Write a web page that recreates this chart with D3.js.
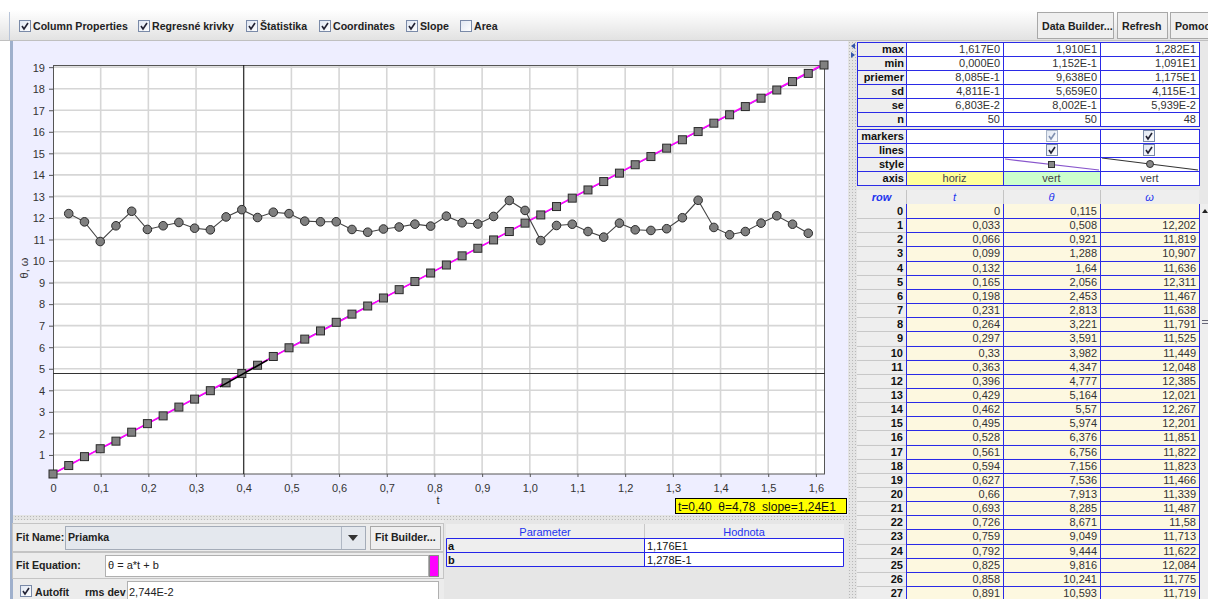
<!DOCTYPE html>
<html><head><meta charset="utf-8">
<script src="https://cdn.jsdelivr.net/npm/d3@7"></script>
<style>body{margin:0;background:#fff}svg{display:block;font-family:"Liberation Sans",Arial,sans-serif}</style>
</head><body><svg id="c" width="1208" height="599"></svg>
<script>
// ---------- data ----------
const rowIdx = d3.range(50);
const tVals = [0,0.033,0.066,0.099,0.132,0.165,0.198,0.231,0.264,0.297,0.33,0.363,0.396,0.429,0.462,0.495,0.528,0.561,0.594,0.627,0.66,0.693,0.726,0.759,0.792,0.825,0.858,0.891,0.924,0.957,0.99,1.023,1.056,1.089,1.122,1.155,1.188,1.221,1.254,1.287,1.32,1.353,1.386,1.419,1.452,1.485,1.518,1.551,1.584,1.617];
const thetaVals = [0.115,0.508,0.921,1.288,1.64,2.056,2.453,2.813,3.221,3.591,3.982,4.347,4.777,5.164,5.57,5.974,6.376,6.756,7.156,7.536,7.913,8.285,8.671,9.049,9.444,9.816,10.241,10.593,10.98,11.37,11.76,12.14,12.53,12.92,13.30,13.69,14.08,14.47,14.85,15.24,15.63,16.01,16.40,16.79,17.17,17.56,17.94,18.33,18.71,19.10];
const omegaVals = [null,12.202,11.819,10.907,11.636,12.311,11.467,11.638,11.791,11.525,11.449,12.048,12.385,12.021,12.267,12.201,11.851,11.822,11.823,11.466,11.339,11.487,11.58,11.713,11.622,12.084,11.775,11.719,12.07,12.81,12.35,10.95,11.65,11.71,11.37,11.11,11.76,11.45,11.42,11.50,12.01,12.82,11.56,11.22,11.37,11.76,12.10,11.71,11.29,null];
const xTicks = d3.range(0,17).map(i=>i/10);
const yTicks = d3.range(1,20);
const fitA = 11.76, fitB = 0.1278;
const cursorT = 0.40, cursorTheta = 4.78, cursorSlope = 12.4;
const statLabels = ["max","min","priemer","sd","se","n"];
const statT = ["1,617E0","0,000E0","8,085E-1","4,811E-1","6,803E-2","50"];
const statTheta = ["1,910E1","1,152E-1","9,638E0","5,659E0","8,002E-1","50"];
const statOmega = ["1,282E1","1,091E1","1,175E1","4,115E-1","5,939E-2","48"];
const propLabels = ["markers","lines","style","axis"];
const colHeaders = ["row","t","θ","ω"];
const toolbarItems = [["Column Properties",true],["Regresné krivky",true],["Štatistika",true],["Coordinates",true],["Slope",true],["Area",false]];
const paramNames = ["a","b"];
const paramValues = ["1,176E1","1,278E-1"];

// ---------- helpers ----------
const svg = d3.select("#c");
const defs = svg.append("defs");
function txt(g,x,y,s,o={}){return g.append("text").attr("x",x).attr("y",y).text(s)
  .attr("font-size",o.size||11).attr("font-weight",o.bold?"bold":null).attr("font-style",o.italic?"italic":null)
  .attr("fill",o.fill||"#222").attr("text-anchor",o.anchor||"start");}
function rect(g,x,y,w,h,fill,stroke,sw){return g.append("rect").attr("x",x).attr("y",y).attr("width",w).attr("height",h)
  .attr("fill",fill||"none").attr("stroke",stroke||"none").attr("stroke-width",sw||1);}
function checkbox(g,x,y,checked,light){
  const gr = g.append("g");
  rect(gr,x+0.5,y+0.5,11,11,"url(#cbg)",light?"#a8b4c8":"#7a8aa8");
  if(checked) gr.append("path").attr("d",`M${x+3},${y+6} L${x+5},${y+9} L${x+9},${y+3}`).attr("fill","none")
     .attr("stroke",light?"#8090b0":"#223",).attr("stroke-width",1.6);
}
const cbg = defs.append("linearGradient").attr("id","cbg").attr("x1",0).attr("y1",0).attr("x2",1).attr("y2",1);
cbg.append("stop").attr("offset",0).attr("stop-color","#dfe6f2");
cbg.append("stop").attr("offset",1).attr("stop-color","#ffffff");
const tbg = defs.append("linearGradient").attr("id","tbg").attr("x1",0).attr("y1",0).attr("x2",0).attr("y2",1);
tbg.append("stop").attr("offset",0).attr("stop-color","#ffffff");
tbg.append("stop").attr("offset",1).attr("stop-color","#e2e2e2");
const dots = defs.append("pattern").attr("id","dots").attr("width",3).attr("height",3).attr("patternUnits","userSpaceOnUse");
dots.append("rect").attr("width",3).attr("height",3).attr("fill","#e4e4e4");
dots.append("rect").attr("width",1).attr("height",1).attr("fill","#b8b8b8");

// ---------- toolbar ----------
const tb = svg.append("g");
rect(tb,0,10,1208,30,"url(#tbg)");
tb.append("line").attr("x1",9.5).attr("x2",9.5).attr("y1",12).attr("y2",40).attr("stroke","#b8c4d8");
const tbX = [19,138,246,319,406,460];
toolbarItems.forEach((d,i)=>{checkbox(tb,tbX[i],20,d[1]); txt(tb,tbX[i]+14,30,d[0],{bold:true,size:10.6});});
[["Data Builder...",1037,76],["Refresh",1117,50],["Pomoc",1170,45]].forEach(b=>{
  rect(tb,b[1]+0.5,12.5,b[2],26,"#efefef","#a8a8a8");
  txt(tb,b[1]+5,30,b[0],{bold:true,size:10.6});
});
tb.append("line").attr("x1",0).attr("x2",1208).attr("y1",40.5).attr("y2",40.5).attr("stroke","#c0c0c0");

// ---------- plot panel ----------
const pp = svg.append("g");
rect(pp,10,41,838,474,"#eeeeff");
rect(pp,10,41,3,558,"#9fb0cc");
const x = d3.scaleLinear().domain([0,1.617]).range([53,824]);
const y = d3.scaleLinear().domain([0.115,19.1]).range([474,65]);
rect(pp,53,65,772,409,"#ffffff");
const grid = pp.append("g");
grid.selectAll(".vg").data(xTicks.slice(1)).join("line").attr("x1",d=>x(d)).attr("x2",d=>x(d)).attr("y1",65).attr("y2",474)
  .attr("stroke","#d6d6d6").attr("stroke-width",1.6);
grid.selectAll(".hg").data(yTicks).join("line").attr("y1",d=>y(d)).attr("y2",d=>y(d)).attr("x1",53).attr("x2",825)
  .attr("stroke","#d6d6d6").attr("stroke-width",1.6);
// axes
const xAxis = d3.axisBottom(x).tickValues(xTicks).tickSize(3).tickFormat(d=>d===0?"0":d3.format(".1f")(d).replace(".",","));
const yAxis = d3.axisLeft(y).tickValues(yTicks).tickSize(4).tickFormat(d=>d);
const gx = pp.append("g").attr("transform","translate(0,474)").call(xAxis);
const gy = pp.append("g").attr("transform","translate(53,0)").call(yAxis);
[gx,gy].forEach(g=>{g.select(".domain").remove(); g.selectAll("line").attr("stroke","#555");
  g.selectAll("text").attr("font-family","Liberation Sans, Arial").attr("font-size",11).attr("fill","#333");});
gx.selectAll("text").attr("dy","1.05em");
gy.selectAll("text").attr("dx","-1").attr("dy","0.35em");
rect(pp,53.5,65.5,771,408.5,"none","#555");
txt(pp,438,504,"t",{size:11,fill:"#333",anchor:"middle"});
pp.append("text").attr("transform","translate(28,268) rotate(-90)").attr("text-anchor","middle").attr("font-size",11).attr("fill","#333").text("θ, ω");

// crosshair
pp.append("line").attr("x1",x(cursorT)).attr("x2",x(cursorT)).attr("y1",65).attr("y2",474).attr("stroke","#111");
pp.append("line").attr("x1",53).attr("x2",825).attr("y1",y(cursorTheta)).attr("y2",y(cursorTheta)).attr("stroke","#333");

// theta data line + fit
const thetaPts = rowIdx.map(i=>[tVals[i],thetaVals[i]]);
const omegaPts = rowIdx.filter(i=>omegaVals[i]!=null).map(i=>[tVals[i],omegaVals[i]]);
const line = d3.line().x(d=>x(d[0])).y(d=>y(d[1]));
pp.append("path").attr("d",line(thetaPts)).attr("fill","none").attr("stroke","#8855cc").attr("stroke-width",1);
pp.append("path").attr("d",line([[0,fitB],[1.617,fitA*1.617+fitB]])).attr("fill","none").attr("stroke","#ff00ff").attr("stroke-width",1.6);
pp.append("path").attr("d",line(omegaPts)).attr("fill","none").attr("stroke","#444").attr("stroke-width",1.1);
pp.selectAll(".sq").data(thetaPts).join("rect").attr("x",d=>x(d[0])-4).attr("y",d=>y(d[1])-4).attr("width",8).attr("height",8)
  .attr("fill","#808080").attr("stroke","#2a2a2a").attr("stroke-width",1);
pp.selectAll(".ci").data(omegaPts).join("circle").attr("cx",d=>x(d[0])).attr("cy",d=>y(d[1])).attr("r",4.3)
  .attr("fill","#7f7f7f").attr("stroke","#2a2a2a").attr("stroke-width",1);
// slope tangent
const dt = 0.05;
pp.append("path").attr("d",line([[cursorT-dt,cursorTheta-cursorSlope*dt],[cursorT+dt,cursorTheta+cursorSlope*dt]]))
  .attr("stroke","#000").attr("stroke-width",1.6).attr("fill","none");
// readout
rect(pp,675.5,498.5,171,15,"#ffff00","#000");
txt(pp,678,510.5,"t=0,40  θ=4,78  slope=1,24E1",{size:12,fill:"#111"}).attr("xml:space","preserve");

// splitter
rect(svg,13,515,835,5,"url(#dots)");

// ---------- bottom fit panel ----------
const bp = svg.append("g");
rect(bp,13,520,431,79,"#ececec");
rect(bp,444,520,404,79,"#e6e6e6");
rect(bp,12.5,523.5,431,28,"#ececec","#c4c4c4");
txt(bp,16,541,"Fit Name:",{bold:true,size:10.6});
rect(bp,65.5,526.5,300,23,"#e4e8ee","#a4acb8");
txt(bp,68,541,"Priamka",{bold:true,size:10.6});
bp.append("line").attr("x1",341.5).attr("x2",341.5).attr("y1",527).attr("y2",549).attr("stroke","#b0b8c4");
bp.append("path").attr("d","M348,535 L358,535 L353,541 Z").attr("fill","#333");
rect(bp,370.5,526.5,70,23,"#efefef","#a8a8a8");
txt(bp,375,541,"Fit Builder...",{bold:true,size:10.6});
rect(bp,12.5,552.5,431,26,"#ececec","#c4c4c4");
txt(bp,16,569,"Fit Equation:",{bold:true,size:10.6});
rect(bp,105.5,555.5,323,21,"#ffffff","#b0b0b0");
txt(bp,108,569,"θ = a*t + b",{size:11});
rect(bp,429.5,555.5,9,21,"#ff00ff","#888");
checkbox(bp,20,585,true);
txt(bp,35,596,"Autofit",{bold:true,size:10.6});
txt(bp,85,596,"rms dev",{bold:true,size:10.6});
rect(bp,127.5,581.5,311,20,"#ffffff","#b0b0b0");
txt(bp,129,596,"2,744E-2",{size:11});
// parameter table
rect(bp,446,524,398,14,"#eeeeee");
txt(bp,545,536,"Parameter",{fill:"#2233ee",anchor:"middle"});
txt(bp,744,536,"Hodnota",{fill:"#2233ee",anchor:"middle"});
bp.append("line").attr("x1",644.5).attr("x2",644.5).attr("y1",524).attr("y2",538).attr("stroke","#c8c8c8");
paramNames.forEach((n,i)=>{
  const yy = 539+i*14;
  rect(bp,446,yy,198,14,"#eeeeee");
  rect(bp,644,yy,200,14,"#ffffff");
  txt(bp,448,yy+11,n,{bold:true,fill:"#111"});
  txt(bp,647,yy+11,paramValues[i],{fill:"#111"});
});
bp.append("path").attr("d","M446.5,538.5 H843.5 V566.5 H446.5 Z M446.5,552.5 H843.5 M644.5,538.5 V566.5").attr("fill","none").attr("stroke","#2424e8");

// ---------- divider ----------
rect(svg,848,41,9,558,"url(#dots)");
svg.append("path").attr("d","M851,43 L855,46 L851,49 Z").attr("fill","#3355aa").attr("transform","rotate(180 853 46)");
svg.append("path").attr("d","M851,52 L855,55 L851,58 Z").attr("fill","#3355aa");

// ---------- right table ----------
const rt = svg.append("g");
const cx = [857,906,1003,1100,1199];
rect(rt,857,41,351,558,"#e8e8e8");
const blue="#2a2ae6";
function gridRows(y0,n,h){
  for(let r=0;r<n;r++){
    const yy=y0+r*h;
    rt.append("line").attr("x1",cx[0]).attr("x2",cx[4]).attr("y1",Math.round(yy+h)+0.5).attr("y2",Math.round(yy+h)+0.5).attr("stroke",blue);
  }
  rt.append("line").attr("x1",cx[0]).attr("x2",cx[4]).attr("y1",y0+0.5).attr("y2",y0+0.5).attr("stroke",blue);
  cx.forEach(c=>rt.append("line").attr("x1",c+0.5).attr("x2",c+0.5).attr("y1",y0).attr("y2",y0+n*h+1).attr("stroke",blue));
}
// stats
const sh=14;
statLabels.forEach((l,i)=>{
  const yy=42+i*sh;
  rect(rt,cx[0],yy,cx[1]-cx[0],sh,"#eeeeee");
  rect(rt,cx[1],yy,cx[4]-cx[1],sh,"#ffffff");
  txt(rt,cx[1]-2,yy+11,l,{bold:true,anchor:"end",fill:"#111"});
  txt(rt,cx[2]-3,yy+11,statT[i],{anchor:"end",fill:"#333"});
  txt(rt,cx[3]-3,yy+11,statTheta[i],{anchor:"end",fill:"#333"});
  txt(rt,cx[4]-3,yy+11,statOmega[i],{anchor:"end",fill:"#333"});
});
gridRows(42,6,sh);
// properties
const py0=129;
propLabels.forEach((l,i)=>{
  const yy=py0+i*sh;
  rect(rt,cx[0],yy,cx[1]-cx[0],sh,"#eeeeee");
  rect(rt,cx[1],yy,cx[4]-cx[1],sh,"#ffffff");
  txt(rt,cx[1]-2,yy+11,l,{bold:true,anchor:"end",fill:"#111"});
});
checkbox(rt,1046,130,true,true); checkbox(rt,1143,130,true);
checkbox(rt,1046,144,true); checkbox(rt,1143,144,true);
rt.append("line").attr("x1",1005).attr("y1",159).attr("x2",1099).attr("y2",170).attr("stroke","#8855cc").attr("stroke-width",1.2);
rect(rt,1048.5,161.5,6,6,"#888","#333");
rt.append("line").attr("x1",1102).attr("y1",158).attr("x2",1198).attr("y2",170).attr("stroke","#333").attr("stroke-width",1.2);
rt.append("circle").attr("cx",1150).attr("cy",164).attr("r",3.5).attr("fill","#888").attr("stroke","#333");
rect(rt,cx[1],py0+3*sh,cx[2]-cx[1],sh,"#ffff99");
rect(rt,cx[2],py0+3*sh,cx[3]-cx[2],sh,"#ccffcc");
txt(rt,(cx[1]+cx[2])/2,py0+3*sh+11,"horiz",{anchor:"middle",fill:"#444"});
txt(rt,(cx[2]+cx[3])/2,py0+3*sh+11,"vert",{anchor:"middle",fill:"#444"});
txt(rt,(cx[3]+cx[4])/2,py0+3*sh+11,"vert",{anchor:"middle",fill:"#444"});
gridRows(py0,4,sh);
// header
rect(rt,cx[0],190,cx[4]-cx[0],14,"#eeeeee");
colHeaders.forEach((h,i)=>{
  txt(rt,(cx[i]+cx[i+1])/2,201,h,{italic:true,bold:i===0,fill:"#2233ee",anchor:"middle"});
  if(i>0) rt.append("line").attr("x1",cx[i]+0.5).attr("x2",cx[i]+0.5).attr("y1",190).attr("y2",204).attr("stroke","#c4c4c4");
});
// data rows
const rh=14.15, dy0=204;
const fmt = v => v==null?"":d3.format(".3~f")(v).replace(".",",");
const visibleRows = rowIdx.filter(i=>dy0+i*rh<599);
visibleRows.forEach(i=>{
  const yy=dy0+i*rh;
  rect(rt,cx[0],yy,cx[1]-cx[0],rh,"#eeeeee");
  rect(rt,cx[1],yy,cx[4]-cx[1],rh,"#fdf8e0");
  txt(rt,cx[1]-3,yy+11,i,{bold:true,anchor:"end",fill:"#111"});
  txt(rt,cx[2]-3,yy+11,fmt(tVals[i]),{anchor:"end",fill:"#333"});
  txt(rt,cx[3]-3,yy+11,fmt(thetaVals[i]),{anchor:"end",fill:"#333"});
  txt(rt,cx[4]-3,yy+11,fmt(omegaVals[i]),{anchor:"end",fill:"#333"});
});
visibleRows.forEach(i=>{
  if(i===0) return;
  const yy=Math.round(dy0+i*rh)+0.5;
  rt.append("line").attr("x1",cx[1]).attr("x2",cx[4]).attr("y1",yy).attr("y2",yy).attr("stroke",blue);
  rt.append("line").attr("x1",cx[0]).attr("x2",cx[1]).attr("y1",yy).attr("y2",yy).attr("stroke","#c8c8c8");
});
[cx[1],cx[2],cx[3],cx[4]].forEach(c=>rt.append("line").attr("x1",c+0.5).attr("x2",c+0.5).attr("y1",204).attr("y2",599).attr("stroke",blue));
// scrollbar
rect(rt,1200,204,8,395,"#eeeeee");
rt.append("path").attr("d","M1202,213 L1208,213 L1205,209 Z").attr("fill","#222");
rt.append("path").attr("d","M1202,320.5 H1208 M1202,323.5 H1208").attr("stroke","#667");
</script></body></html>
